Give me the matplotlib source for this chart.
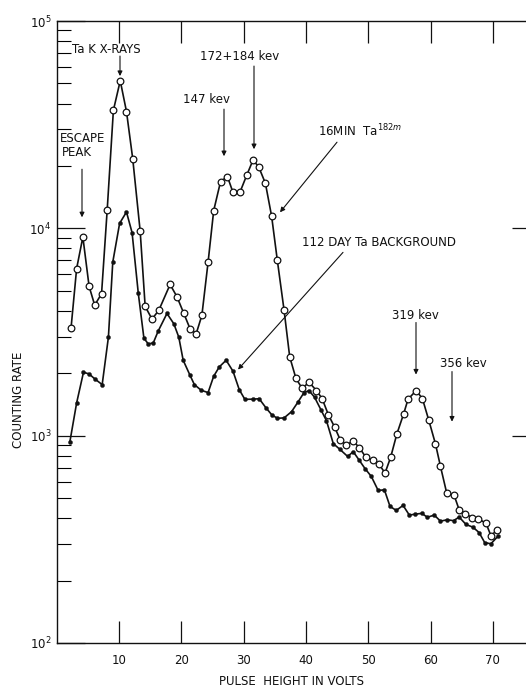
import matplotlib
matplotlib.use("Agg")
import matplotlib.pyplot as plt
import numpy as np

# ---- data ----
ta182m_volts = [2.3, 3.2, 4.2, 5.2, 6.1, 7.2, 8.1, 9.1, 10.2, 11.2,
                12.2, 13.4, 14.2, 15.3, 16.4, 18.2, 19.3, 20.4, 21.4, 22.4,
                23.3, 24.3, 25.2, 26.3, 27.4, 28.3, 29.4, 30.5, 31.5, 32.4,
                33.5, 34.5, 35.4, 36.5, 37.4, 38.4, 39.4, 40.5, 41.7, 42.6,
                43.6, 44.6, 45.5, 46.5, 47.6, 48.6, 49.6, 50.7, 51.7, 52.7,
                53.6, 54.6, 55.7, 56.4, 57.7, 58.7, 59.7, 60.8, 61.6, 62.6,
                63.8, 64.6, 65.6, 66.7, 67.7, 68.9, 69.7, 70.7]
ta182m_rate = [3300, 6400, 9080, 5250, 4260, 4840, 12200, 37100, 51500, 36600,
               21700, 9680, 4200, 3650, 4030, 5360, 4680, 3890, 3280, 3110,
               3800, 6870, 12180, 16800, 17780, 14900, 14900, 18030, 21300, 19870,
               16490, 11430, 7060, 4020, 2400, 1890, 1690, 1810, 1650, 1510,
               1263, 1101, 957, 902, 943, 873, 789, 760, 732, 660,
               786, 1019, 1277, 1500, 1650, 1510, 1194, 912, 711, 529,
               515, 439, 419, 403, 396, 379, 329, 351]

bkg_volts = [2.1, 3.2, 4.3, 5.2, 6.1, 7.3, 8.3, 9.0, 10.1, 11.2,
             12.1, 13.1, 14.0, 14.7, 15.5, 16.3, 17.7, 18.8, 19.6, 20.3,
             21.4, 22.1, 23.2, 24.3, 25.2, 26.1, 27.2, 28.3, 29.3, 30.2,
             31.5, 32.5, 33.6, 34.5, 35.4, 36.5, 37.7, 38.7, 39.7, 40.5,
             41.4, 42.4, 43.3, 44.4, 45.4, 46.7, 47.6, 48.5, 49.5, 50.5,
             51.6, 52.6, 53.5, 54.5, 55.6, 56.6, 57.5, 58.6, 59.5, 60.6,
             61.6, 62.7, 63.7, 64.6, 65.7, 66.8, 67.8, 68.7, 69.7, 70.9]
bkg_rate = [929, 1439, 2022, 1985, 1880, 1763, 2985, 6870, 10570, 11990,
            9530, 4850, 2950, 2770, 2800, 3200, 3885, 3465, 2985, 2311,
            1955, 1763, 1655, 1614, 1935, 2147, 2311, 2045, 1668, 1497,
            1500, 1507, 1361, 1263, 1213, 1218, 1306, 1448, 1614, 1650,
            1531, 1335, 1181, 915, 862, 794, 837, 766, 693, 636,
            544, 548, 456, 436, 461, 414, 418, 422, 404, 414,
            387, 393, 389, 405, 373, 362, 341, 305, 301, 329]

x_ticks = [10, 20, 30, 40, 50, 60, 70]
x_tick_labels = ["10", "20", "30", "40", "50", "60", "70"]

# ---- figure ----
W, H = 526, 687
fig = plt.figure(figsize=(W / 100, H / 100), dpi=100)
L, R, T, B = 56.7, 526, 21, 643
ax = fig.add_axes([L / W, 1 - B / H, (R - L) / W, (B - T) / H])

XPX = 6.23  # px per volt
xmax = (R - L) / XPX
ax.set_xlim(0, xmax)
ax.set_yscale("log")
ax.set_ylim(1e2, 1e5)

ink = "#111111"
ax.plot(ta182m_volts, ta182m_rate, "-", color=ink, lw=1.2, zorder=2)
ax.plot(ta182m_volts, ta182m_rate, "o", ms=4.8, mfc="white", mec=ink, mew=0.9, zorder=3)
ax.plot(bkg_volts, bkg_rate, "-", color=ink, lw=1.2, zorder=2)
ax.plot(bkg_volts, bkg_rate, "o", ms=2.9, mfc=ink, mec=ink, mew=0.3, zorder=3)

for s in ["left", "bottom", "top"]:
    ax.spines[s].set_linewidth(1.0)
    ax.spines[s].set_color(ink)
ax.spines["right"].set_visible(False)

fs = 8.5
ax.set_xticks(x_ticks)
ax.set_xticklabels(x_tick_labels, fontsize=fs)
ax.tick_params(axis="x", which="major", direction="in", length=16, width=0.9,
               top=True, bottom=True, pad=8, colors=ink)
ax.yaxis.set_major_locator(matplotlib.ticker.LogLocator(base=10, numticks=10))
ax.yaxis.set_minor_locator(matplotlib.ticker.LogLocator(base=10, subs=np.arange(2, 10), numticks=20))
ax.tick_params(axis="y", which="major", direction="in", length=20, width=0.9,
               left=True, right=False, labelsize=fs, pad=4, colors=ink)
ax.tick_params(axis="y", which="minor", direction="in", length=10, width=0.8,
               left=True, right=False, labelleft=False)

# short right-hand ticks on a twin axis
ax2 = ax.twinx()
ax2.set_yscale("log")
ax2.set_ylim(1e2, 1e5)
for s in ax2.spines.values():
    s.set_visible(False)
ax2.yaxis.set_major_locator(matplotlib.ticker.FixedLocator([1e3, 1e4]))
ax2.yaxis.set_minor_locator(matplotlib.ticker.NullLocator())
ax2.tick_params(axis="y", which="major", direction="in", length=10, width=0.9,
                right=True, labelright=False, colors=ink)

ax.set_xlabel("PULSE  HEIGHT IN VOLTS", fontsize=fs, labelpad=6, color=ink)
fig.text(19 / W, 1 - 400 / H, "COUNTING RATE", rotation=90, fontsize=fs,
         ha="center", va="center", color=ink)


def d(px, py):
    """pixel position -> data coordinates"""
    return ((px - L) / XPX, 10 ** (2 + (B - py) / 207.0))


arrow = dict(arrowstyle="-|>", color=ink, lw=0.8, mutation_scale=7, shrinkA=0, shrinkB=0)


def label(text, px, py, ha="center"):
    x, y = d(px, py)
    ax.text(x, y, text, fontsize=fs, ha=ha, va="center", color=ink)


def arr(p0, p1):
    ax.annotate("", xy=d(*p1), xytext=d(*p0), arrowprops=arrow)


label("Ta K X-RAYS", 72, 50, ha="left")
arr((120, 57), (120, 77))
label("ESCAPE", 60, 139, ha="left")
label("PEAK", 62, 153, ha="left")
arr((82, 170), (82, 218))
label("147 kev", 206, 100)
arr((224, 110), (224, 157))
label("172+184 kev", 240, 57)
arr((254, 67), (254, 150))
label("16MIN  Ta$^{182m}$", 318, 132, ha="left")
arr((337, 143), (280, 213))
label("112 DAY Ta BACKGROUND", 302, 243, ha="left")
arr((343, 253), (238, 370))
label("319 kev", 415, 316)
arr((416, 323), (416, 375))
label("356 kev", 463, 364)
arr((452, 372), (452, 422))

fig.savefig("out.png", dpi=100)
